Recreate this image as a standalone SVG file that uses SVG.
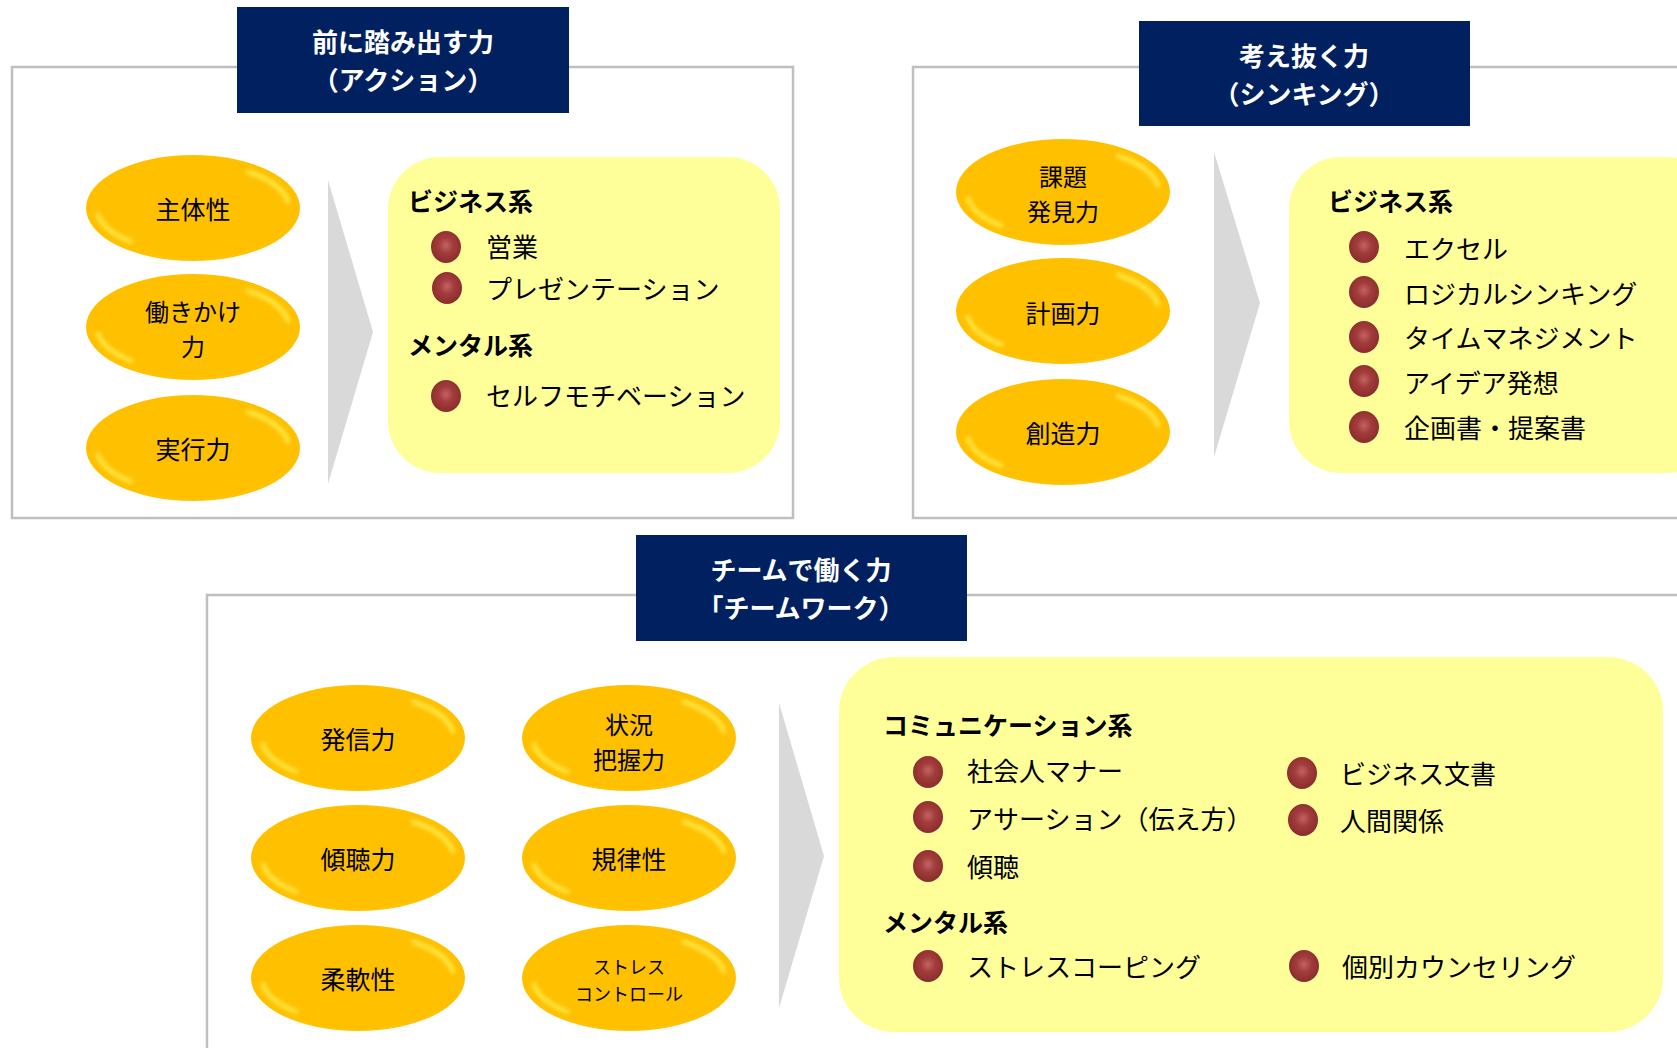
<svg xmlns="http://www.w3.org/2000/svg" xmlns:xlink="http://www.w3.org/1999/xlink" width="1677" height="1048" viewBox="0 0 1677 1048">
<style>
.frame{fill:#FFFFFF;stroke:#BFBFBF;stroke-width:2.5}
.hdr{fill:#002060}
.hdrt{font-family:"Noto Sans CJK JP","Noto Sans",sans-serif;font-size:26px;font-weight:700;fill:#FFFFFF;text-anchor:middle;dominant-baseline:central}
.panel{fill:#FFFF99}
.chev{fill:#D9D9D9}
.lbl{font-family:"Noto Sans CJK JP","Noto Sans",sans-serif;font-size:25px;fill:#000000;text-anchor:middle;dominant-baseline:central}
.lbl2{font-family:"Noto Sans CJK JP","Noto Sans",sans-serif;font-size:24px;fill:#000000;text-anchor:middle;dominant-baseline:central}
.lbls{font-family:"Noto Sans CJK JP","Noto Sans",sans-serif;font-size:18px;fill:#000000;text-anchor:middle;dominant-baseline:central}
.hd{font-family:"Noto Sans CJK JP","Noto Sans",sans-serif;font-size:25px;font-weight:700;fill:#000000;dominant-baseline:central}
.it{font-family:"Noto Sans CJK JP","Noto Sans",sans-serif;font-size:26px;fill:#000000;dominant-baseline:central}
</style>
<defs>
<filter id="soft" x="-20%" y="-20%" width="140%" height="140%"><feGaussianBlur stdDeviation="2"/></filter>
<radialGradient id="ballg" cx="50%" cy="45%" r="55%">
<stop offset="0" stop-color="#C46262"/>
<stop offset="0.45" stop-color="#A23C3C"/>
<stop offset="1" stop-color="#8A2C2C"/>
</radialGradient>
<radialGradient id="pillg" cx="50%" cy="45%" r="60%">
<stop offset="0" stop-color="#FFC000"/>
<stop offset="0.85" stop-color="#FFC000"/>
<stop offset="1" stop-color="#FFC814"/>
</radialGradient>
<g id="pill">
<ellipse cx="0" cy="0" rx="107" ry="53" fill="url(#pillg)"/>
<path d="M -95.1 6.1 A 96 44 0 0 0 -61.7 33.7" fill="none" stroke="#FFF45A" stroke-width="4" stroke-linecap="round" opacity="0.85" filter="url(#soft)"/>
<path d="M 55.1 -36 A 96 44 0 0 1 95.1 -6.1" fill="none" stroke="#FFF45A" stroke-width="4" stroke-linecap="round" opacity="0.85" filter="url(#soft)"/>
</g>
<ellipse id="ball" cx="0" cy="0" rx="15" ry="16" fill="url(#ballg)"/>
</defs>

<rect width="1677" height="1048" fill="#FFFFFF"/>

<!-- outer frames -->
<g id="frame-action"><rect class="frame" x="12" y="67" width="781" height="451"/></g>
<g id="frame-thinking"><rect class="frame" x="913" y="67" width="800" height="451"/></g>
<g id="frame-teamwork"><rect class="frame" x="207" y="595" width="1500" height="500"/></g>

<!-- headers -->
<g id="header-action">
<rect class="hdr" x="237" y="7" width="332" height="106"/>
<text class="hdrt"><tspan x="403" y="40">前に踏み出す力</tspan><tspan x="403" y="78">（アクション）</tspan></text>
</g>
<g id="header-thinking">
<rect class="hdr" x="1139" y="21" width="331" height="105"/>
<text class="hdrt"><tspan x="1304" y="54">考え抜く力</tspan><tspan x="1304" y="92">（シンキング）</tspan></text>
</g>
<g id="header-teamwork">
<rect class="hdr" x="636" y="535" width="331" height="106"/>
<text class="hdrt"><tspan x="801" y="568">チームで働く力</tspan><tspan x="801" y="606">「チームワーク）</tspan></text>
</g>

<!-- connectors (chevrons) -->
<g id="connectors">
<polygon class="chev" points="328,180 373,332 328,484"/>
<polygon class="chev" points="1214,152 1260,303 1214,457"/>
<polygon class="chev" points="779,703 824,856 779,1008"/>
</g>

<!-- action ellipses -->
<g id="node-shutaisei"><use xlink:href="#pill" x="193" y="208"/><text class="lbl" x="193" y="208">主体性</text></g>
<g id="node-hatarakikake"><use xlink:href="#pill" x="193" y="327"/><text class="lbl2"><tspan x="193" y="310">働きかけ</tspan><tspan x="193" y="345">力</tspan></text></g>
<g id="node-jikkou"><use xlink:href="#pill" x="193" y="448"/><text class="lbl" x="193" y="448">実行力</text></g>

<!-- thinking ellipses -->
<g id="node-kadai"><use xlink:href="#pill" x="1063" y="192"/><text class="lbl2"><tspan x="1063" y="175">課題</tspan><tspan x="1063" y="210">発見力</tspan></text></g>
<g id="node-keikaku"><use xlink:href="#pill" x="1063" y="311"/><text class="lbl" x="1063" y="312">計画力</text></g>
<g id="node-souzou"><use xlink:href="#pill" x="1063" y="432"/><text class="lbl" x="1063" y="432">創造力</text></g>

<!-- teamwork ellipses -->
<g id="node-hasshin"><use xlink:href="#pill" x="358" y="738"/><text class="lbl" x="358" y="738">発信力</text></g>
<g id="node-keichou"><use xlink:href="#pill" x="358" y="858"/><text class="lbl" x="358" y="858">傾聴力</text></g>
<g id="node-juunan"><use xlink:href="#pill" x="358" y="978"/><text class="lbl" x="358" y="978">柔軟性</text></g>
<g id="node-joukyou"><use xlink:href="#pill" x="629" y="738"/><text class="lbl2"><tspan x="629" y="723">状況</tspan><tspan x="629" y="758">把握力</tspan></text></g>
<g id="node-kiritsu"><use xlink:href="#pill" x="629" y="858"/><text class="lbl" x="629" y="858">規律性</text></g>
<g id="node-stress"><use xlink:href="#pill" x="629" y="978"/><text class="lbls"><tspan x="629" y="966">ストレス</tspan><tspan x="629" y="993">コントロール</tspan></text></g>

<!-- panel: action -->
<g id="panel-action">
<rect class="panel" x="388" y="157" width="392" height="316" rx="52" ry="52"/>
<text class="hd" x="408" y="200">ビジネス系</text>
<use xlink:href="#ball" x="446" y="247"/><text class="it" x="486" y="245">営業</text>
<use xlink:href="#ball" x="447" y="288"/><text class="it" x="486" y="287">プレゼンテーション</text>
<text class="hd" x="408" y="344">メンタル系</text>
<use xlink:href="#ball" x="446" y="396"/><text class="it" x="486" y="394">セルフモチベーション</text>
</g>

<!-- panel: thinking -->
<g id="panel-thinking">
<rect class="panel" x="1289" y="157" width="430" height="316" rx="52" ry="52"/>
<text class="hd" x="1328" y="200">ビジネス系</text>
<use xlink:href="#ball" x="1364" y="247"/><text class="it" x="1404" y="247">エクセル</text>
<use xlink:href="#ball" x="1364" y="292"/><text class="it" x="1404" y="292">ロジカルシンキング</text>
<use xlink:href="#ball" x="1364" y="337"/><text class="it" x="1404" y="336">タイムマネジメント</text>
<use xlink:href="#ball" x="1364" y="381"/><text class="it" x="1404" y="381">アイデア発想</text>
<use xlink:href="#ball" x="1364" y="427"/><text class="it" x="1404" y="426">企画書・提案書</text>
</g>

<!-- panel: teamwork -->
<g id="panel-teamwork">
<rect class="panel" x="839" y="657" width="824" height="375" rx="56" ry="54"/>
<text class="hd" x="883" y="724">コミュニケーション系</text>
<use xlink:href="#ball" x="928" y="772"/><text class="it" x="967" y="769">社会人マナー</text>
<use xlink:href="#ball" x="928" y="817"/><text class="it" x="967" y="817">アサーション（伝え方）</text>
<use xlink:href="#ball" x="928" y="866"/><text class="it" x="967" y="865">傾聴</text>
<use xlink:href="#ball" x="1302" y="773"/><text class="it" x="1340" y="772">ビジネス文書</text>
<use xlink:href="#ball" x="1303" y="820"/><text class="it" x="1340" y="819">人間関係</text>
<text class="hd" x="883" y="921">メンタル系</text>
<use xlink:href="#ball" x="928" y="966"/><text class="it" x="967" y="965">ストレスコーピング</text>
<use xlink:href="#ball" x="1304" y="966"/><text class="it" x="1342" y="965">個別カウンセリング</text>
</g>
</svg>
